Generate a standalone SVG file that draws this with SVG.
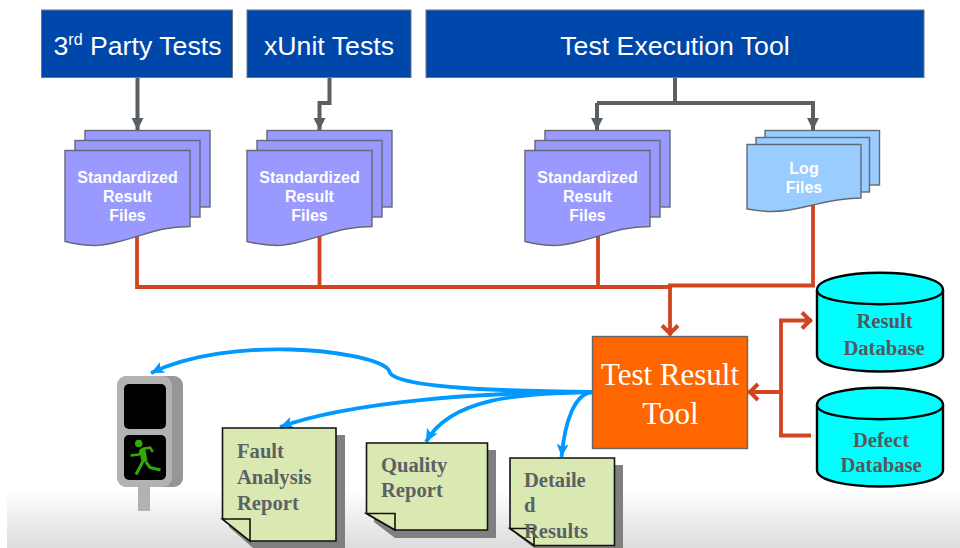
<svg xmlns="http://www.w3.org/2000/svg" width="960" height="548" viewBox="0 0 960 548">
<defs>
<linearGradient id="floor" x1="0" y1="0" x2="0" y2="1"><stop offset="0" stop-color="#ffffff"/><stop offset="1" stop-color="#dcdcdc"/></linearGradient>
<marker id="gh" markerUnits="userSpaceOnUse" markerWidth="13" markerHeight="14" refX="12" refY="7" orient="auto"><path d="M0,1L12,7L0,13z" fill="#595f63"/></marker>
<marker id="rh" markerUnits="userSpaceOnUse" markerWidth="16" markerHeight="22" refX="13" refY="11" orient="auto"><path d="M3,3L11,11L3,19" fill="none" stroke="#d04520" stroke-width="4"/></marker>
<marker id="bh" markerUnits="userSpaceOnUse" markerWidth="15" markerHeight="14" refX="13" refY="7" orient="auto"><path d="M0,1L13,7L0,13L3,7z" fill="#0099ff"/></marker>
<path id="doc" d="M0,0H125V76C100,76 85,82 72,86C55,91 42,95 30,95C18,95 8,93 0,91Z"/>
<style>
.hdr{fill:#0047ab;stroke:#6c7480;stroke-width:1}
.ht{font:26.7px "Liberation Sans",Arial,sans-serif;fill:#fff;text-anchor:middle}
.pp{fill:#9999ff;stroke:#646a72;stroke-width:1.4}
.lb{fill:#99ccff;stroke:#646a72;stroke-width:1.4}
.ft{font:bold 16px "Liberation Sans",Arial,sans-serif;fill:#fff;text-anchor:middle}
.note{fill:#dae9b2;stroke:#111;stroke-width:1.6}
.sh{fill:#808080}
.nt{font:bold 20.6px "Liberation Serif","Times New Roman",serif;fill:#5c6165}
.db{fill:#00ffff;stroke:#000;stroke-width:2.4}
.dt{font:bold 20.6px "Liberation Serif","Times New Roman",serif;fill:#55585a;text-anchor:middle}
.g{fill:none;stroke:#595f63;stroke-width:4}
.r{fill:none;stroke:#d04520;stroke-width:3.8}
.b{fill:none;stroke:#0099ff;stroke-width:3.8}
</style>
</defs>
<rect id="floor-band" x="7" y="490" width="953" height="58" fill="url(#floor)"/>
<g id="connectors">
<path class="g" d="M137.500,78V130" marker-end="url(#gh)"/>
<path class="g" d="M329.500,78V103H319.500V130" marker-end="url(#gh)"/>
<path class="g" d="M675,78V103"/>
<path class="g" d="M597,103H813V130" marker-end="url(#gh)"/>
<path class="g" d="M597,103V130" marker-end="url(#gh)"/>
<path class="r" d="M137,236V287H672M319.500,236V287M598,236V287M813,205V285.500H668"/>
<path class="r" d="M670,285V335.500" marker-end="url(#rh)"/>
<path class="r" d="M781,392V320.500H812" marker-end="url(#rh)"/>
<path class="r" d="M781,392H748" marker-end="url(#rh)"/>
<path class="r" d="M781,392V435.500H811"/>
<path class="b" d="M593,392C500,391 410,388 392,375C388,372 390,370 387,368C365,350 230,335 151,373" marker-end="url(#bh)"/>
<path class="b" d="M593,392C480,392 350,402 280,427" marker-end="url(#bh)"/>
<path class="b" d="M593,392C520,393 450,398 426,442" marker-end="url(#bh)"/>
<path class="b" d="M593,392C575,393 565,420 561.500,457" marker-end="url(#bh)"/>
</g>
<g id="tests-3rd"><rect class="hdr" x="41.500" y="10" width="191" height="67.500"/><text class="ht" x="137.500" y="55">3<tspan font-size="16" dy="-10">rd</tspan><tspan dy="10"> Party Tests</tspan></text></g>
<g id="tests-xunit"><rect class="hdr" x="247" y="10" width="164" height="67.500"/><text class="ht" x="329" y="55">xUnit Tests</text></g>
<g id="tool-exec"><rect class="hdr" x="426" y="10" width="498" height="67.500"/><text class="ht" x="675" y="55">Test Execution Tool</text></g>
<g id="files-1"><rect class="pp" x="85" y="130.500" width="125" height="76.500"/><rect class="pp" x="75" y="140.500" width="125" height="76.500"/><use href="#doc" class="pp" transform="translate(65,150.500)"/><text class="ft" x="127.500" y="183">Standardized</text><text class="ft" x="127.500" y="202">Result</text><text class="ft" x="127.500" y="221">Files</text></g>
<g id="files-2"><rect class="pp" x="267" y="130.500" width="125" height="76.500"/><rect class="pp" x="257" y="140.500" width="125" height="76.500"/><use href="#doc" class="pp" transform="translate(247,150.500)"/><text class="ft" x="309.500" y="183">Standardized</text><text class="ft" x="309.500" y="202">Result</text><text class="ft" x="309.500" y="221">Files</text></g>
<g id="files-3"><rect class="pp" x="545" y="130.500" width="125" height="76.500"/><rect class="pp" x="535" y="140.500" width="125" height="76.500"/><use href="#doc" class="pp" transform="translate(525,150.500)"/><text class="ft" x="587.500" y="183">Standardized</text><text class="ft" x="587.500" y="202">Result</text><text class="ft" x="587.500" y="221">Files</text></g>
<g id="files-log"><rect class="lb" x="765" y="130.500" width="114.500" height="54.500"/><rect class="lb" x="756" y="137.500" width="113.500" height="54.500"/><path class="lb" d="M747,144.500H861V198C840,198 825,202 813,205C800,208 788,211.500 772,211.500C762,211.500 754,210 747,209Z"/><text class="ft" x="804" y="174">Log</text><text class="ft" x="804" y="193">Files</text></g>
<g id="test-result-tool"><rect x="592.500" y="336.500" width="155" height="112" fill="#ff6600" stroke="#666" stroke-width="1.4"/><text x="670" y="385" font-family="'Liberation Serif','Times New Roman',serif" font-size="31" fill="#fff" text-anchor="middle">Test Result</text><text x="670.500" y="424" font-family="'Liberation Serif','Times New Roman',serif" font-size="31" fill="#fff" text-anchor="middle">Tool</text></g>
<g id="result-db"><path class="db" d="M817,290C817,267 943,267 943,290V355C943,377 817,377 817,355Z"/><path class="db" d="M817,290C817,309 943,309 943,290" fill="none"/><text class="dt" x="884.500" y="328">Result</text><text class="dt" x="884" y="355">Database</text></g>
<g id="defect-db"><path class="db" d="M817,405C817,382 943,382 943,405V470C943,492 817,492 817,470Z"/><path class="db" d="M817,405C817,424 943,424 943,405" fill="none"/><text class="dt" x="881" y="447">Defect</text><text class="dt" x="881" y="472">Database</text></g>
<g id="signal"><rect x="138" y="486" width="12" height="25" fill="#b2b2b2"/><rect x="118" y="376" width="65" height="111" rx="9" fill="#969696"/><rect x="117" y="376" width="55" height="111" rx="9" fill="#b2b2b2"/><rect x="124" y="384" width="42" height="45" rx="5" fill="#000"/><rect x="124" y="435" width="42" height="45" rx="5" fill="#000"/><circle cx="138.700" cy="443.500" r="3.800" fill="#33aa00"/><path d="M130.500,455.500L139,454.500L142,449L150,447.500L152.800,452" fill="none" stroke="#33aa00" stroke-width="2.400" stroke-linejoin="round"/><path d="M143,461L140,467L136,474.500M146,462L150,467.500L160.500,470" fill="none" stroke="#33aa00" stroke-width="3" stroke-linejoin="round"/><path d="M139,450L145,447L147.500,461L142,463Z" fill="#33aa00"/></g>
<g id="report-fault"><path class="sh" d="M229,435H345V548H253L229,527Z"/><path class="note" d="M222.500,428H336V541H250L222.500,519Z"/><path class="note" d="M222.500,519H250V541Z"/><text class="nt" x="237" y="458">Fault</text><text class="nt" x="237" y="484">Analysis</text><text class="nt" x="237" y="509.500">Report</text></g>
<g id="report-quality"><path class="sh" d="M374,450H496V538H395L374,522Z"/><path class="note" d="M366.500,443H487.500V530H395L366.500,513.500Z"/><path class="note" d="M366.500,513.500H395V530Z"/><text class="nt" x="381" y="472">Quality</text><text class="nt" x="381" y="497">Report</text></g>
<g id="report-detailed"><path class="sh" d="M517,465H623V548H534L517,535Z"/><path class="note" d="M510,458H614.500V545.500H534L510,528.500Z"/><path class="note" d="M510,528.500H534V545.500Z"/><text class="nt" x="524" y="487">Detaile</text><text class="nt" x="524" y="512">d</text><text class="nt" x="524" y="538">Results</text></g>
</svg>
